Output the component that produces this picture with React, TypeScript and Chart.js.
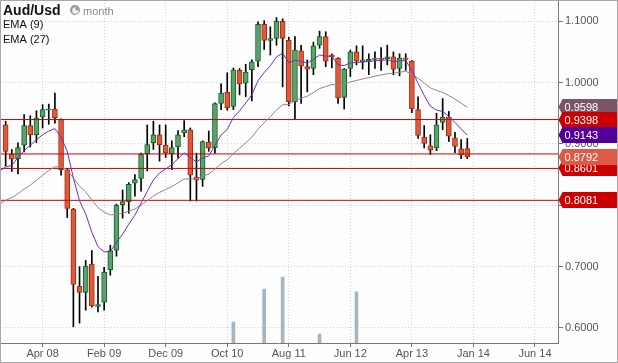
import React, { useEffect, useRef } from 'react';
import { Chart, registerables } from 'chart.js';

Chart.register(...registerables);

// Monthly candles, index 0 = first visible month
const OPEN = [0.931, 0.883, 0.876, 0.898, 0.930, 0.915, 0.944, 0.955, 0.957, 0.940,
  0.858, 0.794, 0.668, 0.658, 0.704, 0.635, 0.642, 0.695, 0.727, 0.801,
  0.806, 0.836, 0.844, 0.884, 0.902, 0.915, 0.898, 0.884, 0.895, 0.918,
  0.923, 0.846, 0.842, 0.903, 0.894, 0.966, 0.984, 0.961, 1.020, 0.999,
  1.021, 1.035, 1.095, 1.069, 1.072, 1.100, 1.069, 0.969, 1.052, 1.026,
  1.023, 1.061, 1.075, 1.045, 1.040, 0.976, 1.023, 1.050, 1.034, 1.035,
  1.038, 1.040, 1.039, 1.042, 1.023, 1.040, 1.035, 0.956, 0.911, 0.897,
  0.8935, 0.935, 0.944, 0.910, 0.892, 0.8925];
const HIGH = [0.937, 0.891, 0.902, 0.948, 0.946, 0.954, 0.964, 0.965, 0.983, 0.941,
  0.860, 0.795, 0.700, 0.710, 0.726, 0.684, 0.699, 0.735, 0.802, 0.825,
  0.837, 0.850, 0.885, 0.931, 0.937, 0.931, 0.931, 0.905, 0.922, 0.938,
  0.926, 0.885, 0.905, 0.921, 0.967, 0.998, 1.016, 1.024, 1.023, 1.030,
  1.037, 1.099, 1.101, 1.091, 1.106, 1.104, 1.074, 1.075, 1.061, 1.037,
  1.066, 1.084, 1.083, 1.047, 1.041, 1.023, 1.053, 1.060, 1.060, 1.047,
  1.050, 1.057, 1.061, 1.050, 1.047, 1.047, 1.036, 0.977, 0.930, 0.915,
  0.950, 0.974, 0.953, 0.919, 0.907, 0.909];
const LOW = [0.864, 0.855, 0.851, 0.887, 0.895, 0.902, 0.926, 0.932, 0.934, 0.849,
  0.780, 0.602, 0.608, 0.629, 0.634, 0.626, 0.629, 0.686, 0.717, 0.779,
  0.787, 0.815, 0.823, 0.856, 0.891, 0.872, 0.878, 0.858, 0.877, 0.912,
  0.807, 0.807, 0.831, 0.888, 0.885, 0.956, 0.955, 0.956, 0.980, 0.977,
  0.970, 1.026, 1.054, 1.045, 1.061, 0.993, 0.962, 0.940, 0.966, 0.985,
  1.013, 1.056, 1.026, 1.024, 0.966, 0.957, 1.010, 1.029, 1.022, 1.013,
  1.023, 1.020, 1.029, 1.013, 1.011, 1.020, 0.951, 0.909, 0.8935, 0.883,
  0.889, 0.923, 0.904, 0.886, 0.876, 0.876];
const CLOSE = [0.888, 0.875, 0.894, 0.930, 0.915, 0.942, 0.956, 0.957, 0.943, 0.858,
  0.795, 0.671, 0.658, 0.701, 0.636, 0.638, 0.691, 0.726, 0.800, 0.806,
  0.834, 0.842, 0.883, 0.899, 0.915, 0.899, 0.885, 0.894, 0.915, 0.923,
  0.849, 0.841, 0.904, 0.893, 0.966, 0.983, 0.959, 1.021, 0.998, 1.017,
  1.034, 1.095, 1.069, 1.072, 1.100, 1.072, 0.969, 1.053, 1.027, 1.022,
  1.060, 1.075, 1.035, 1.042, 0.975, 1.022, 1.050, 1.035, 1.037, 1.038,
  1.040, 1.038, 1.042, 1.022, 1.040, 1.038, 0.957, 0.914, 0.901, 0.890,
  0.931, 0.944, 0.9125, 0.896, 0.882, 0.8792];

// EMA values; first entry sits one month before the first candle
const EMA9 = [0.856,
  0.8624, 0.8649, 0.878, 0.889, 0.898, 0.907, 0.915, 0.921, 0.925, 0.9114,
  0.8881, 0.8447, 0.8074, 0.7861, 0.7561, 0.7325, 0.7242, 0.7246, 0.7397, 0.7530,
  0.7692, 0.7838, 0.8036, 0.8227, 0.8412, 0.8528, 0.8592, 0.8662, 0.8760, 0.8854,
  0.8781, 0.8707, 0.8774, 0.8805, 0.8976, 0.9147, 0.9236, 0.9431, 0.9541, 0.9667,
  0.9802, 1.0032, 1.0164, 1.0275, 1.0420, 1.0480, 1.0322, 1.0364, 1.0345, 1.0320,
  1.0376, 1.0451, 1.0431, 1.0429, 1.0293, 1.0278, 1.0322, 1.0328, 1.0336, 1.0345,
  1.0356, 1.0361, 1.0373, 1.0342, 1.0354, 1.0359, 1.0201, 0.9989, 0.9793, 0.9614,
  0.9553, 0.9530, 0.9449, 0.9351, 0.9245, 0.9143];
const EMA27 = [0.802,
  0.8081, 0.8129, 0.8187, 0.8266, 0.8329, 0.8407, 0.8489, 0.8566, 0.8628, 0.8625,
  0.8577, 0.8444, 0.8311, 0.8218, 0.8085, 0.7963, 0.7888, 0.7843, 0.7854, 0.7869,
  0.7903, 0.7940, 0.8004, 0.8074, 0.8151, 0.8211, 0.8257, 0.8306, 0.8366, 0.8428,
  0.8432, 0.8430, 0.8474, 0.8507, 0.8589, 0.8678, 0.8743, 0.8848, 0.8929, 0.9018,
  0.9112, 0.9243, 0.9346, 0.9444, 0.9555, 0.9638, 0.9642, 0.9705, 0.9745, 0.9779,
  0.9838, 0.9903, 0.9935, 0.9970, 0.9954, 0.9973, 1.0011, 1.0035, 1.0059, 1.0082,
  1.0105, 1.0125, 1.0146, 1.0151, 1.0169, 1.0184, 1.0140, 1.0069, 0.9993, 0.9915,
  0.9872, 0.9841, 0.9790, 0.9731, 0.9666, 0.9598];

const VOL_INDEX = [37, 42, 45, 51, 57];
const VOL_VALUES = [61, 157, 192, 26, 149];

const X_TICKS = [6, 16, 26, 36, 46, 56, 66, 76, 86];
const X_LABELS = ['Apr 08', 'Feb 09', 'Dec 09', 'Oct 10', 'Aug 11', 'Jun 12', 'Apr 13', 'Jan 14', 'Jun 14'];
const Y_TICKS = [0.6, 0.7, 0.8, 0.9, 1.0, 1.1];

const H_LINES = [0.9398, 0.8837, 0.8601, 0.8081];

const TAG_VALUES = [0.9598, 0.9398, 0.9143, 0.8601, 0.8081, 0.8792];
const TAG_COLORS = ['#7d5569', '#cc0000', '#52009a', '#cc0000', '#cc0000', '#dc5a46'];

const X_MIN = -0.921;
const X_MAX = 89.74;
const Y_MIN = 0.5755;
const Y_MAX = 1.1347;

const FONT = '"Liberation Sans", Arial, sans-serif';

export default function App() {
  const ref = useRef<HTMLCanvasElement | null>(null);

  useEffect(() => {
    const canvas = ref.current;
    if (!canvas) return;

    const up = CLOSE.map((c, i) => c >= OPEN[i]);
    const bodies = CLOSE.map((c, i) => ({ x: i, y: [Math.min(c, OPEN[i]), Math.max(c, OPEN[i])] }));
    const wicks = HIGH.map((h, i) => ({ x: i, y: [LOW[i], h] }));
    const vols = VOL_INDEX.map((x, k) => ({ x, y: VOL_VALUES[k] }));

    const bgPlugin = {
      id: 'bg',
      beforeDraw(chart: any) {
        const ctx = chart.ctx;
        ctx.save();
        ctx.fillStyle = '#fdfdfd';
        ctx.fillRect(0, 0, chart.width, chart.height);
        ctx.restore();
      },
      afterDraw(chart: any) {
        const ctx = chart.ctx;
        const area = chart.chartArea;
        const yScale = chart.scales.y;
        ctx.save();
        // price tags
        TAG_VALUES.forEach((v, k) => {
          const y = Math.round(yScale.getPixelForValue(v));
          const x0 = area.right + 0.5;
          const h = 16;
          ctx.beginPath();
          ctx.moveTo(x0, y);
          ctx.lineTo(x0 + 4, y - h / 2);
          ctx.lineTo(chart.width, y - h / 2);
          ctx.lineTo(chart.width, y + h / 2);
          ctx.lineTo(x0 + 4, y + h / 2);
          ctx.closePath();
          ctx.fillStyle = TAG_COLORS[k];
          ctx.fill();
          ctx.fillStyle = '#ffffff';
          ctx.font = '11px ' + FONT;
          ctx.textBaseline = 'middle';
          ctx.textAlign = 'left';
          ctx.fillText(v.toFixed(4), x0 + 6, y + 0.5);
        });
        // outer border
        ctx.strokeStyle = '#a8a8a8';
        ctx.lineWidth = 1;
        ctx.strokeRect(0.5, 0.5, chart.width - 1, chart.height - 1);
        // title block
        ctx.fillStyle = '#111';
        ctx.textBaseline = 'alphabetic';
        ctx.font = 'bold 14px ' + FONT;
        ctx.fillText('Aud/Usd', 3, 15);
        // clock icon
        ctx.beginPath();
        ctx.arc(75, 10, 5, 0, Math.PI * 2);
        ctx.fillStyle = '#9a9a9a';
        ctx.fill();
        ctx.beginPath();
        ctx.arc(75.5, 10.5, 3.2, 0, Math.PI * 2);
        ctx.fillStyle = '#f4f4f4';
        ctx.fill();
        ctx.beginPath();
        ctx.moveTo(75.5, 10.5);
        ctx.arc(75.5, 10.5, 3.2, -Math.PI / 2, 0);
        ctx.closePath();
        ctx.fillStyle = '#9a9a9a';
        ctx.fill();
        ctx.font = '11px ' + FONT;
        ctx.fillStyle = '#8a8a8a';
        ctx.fillText('month', 83, 15);
        ctx.fillStyle = '#111';
        ctx.fillText('EMA (9)', 3, 28);
        ctx.fillText('EMA (27)', 3, 43);
        ctx.restore();
      },
    };

    const chart = new Chart(canvas, {
      type: 'bar',
      data: {
        datasets: [
          {
            type: 'line',
            label: 'EMA (9)',
            data: EMA9.map((v, k) => ({ x: k - 1, y: v })),
            borderColor: '#7030c0',
            borderWidth: 1,
            pointRadius: 0,
            tension: 0,
            order: 0,
            yAxisID: 'y',
          } as any,
          {
            type: 'line',
            label: 'EMA (27)',
            data: EMA27.map((v, k) => ({ x: k - 1, y: v })),
            borderColor: '#a08090',
            borderWidth: 1,
            pointRadius: 0,
            tension: 0,
            order: 0,
            yAxisID: 'y',
          } as any,
          ...H_LINES.map((v) => ({
            type: 'line',
            label: 'level',
            data: [{ x: X_MIN, y: v }, { x: X_MAX, y: v }],
            borderColor: '#cc0000',
            borderWidth: 1,
            pointRadius: 0,
            order: 0,
            yAxisID: 'y',
          } as any)),
          {
            label: 'body',
            data: bodies as any,
            backgroundColor: up.map((u) => (u ? '#5e9e72' : '#dd5a3a')),
            borderColor: up.map((u) => (u ? '#0a6a1a' : '#a82a10')),
            borderWidth: 1,
            borderSkipped: false,
            barThickness: 5,
            grouped: false,
            order: 1,
            yAxisID: 'y',
          } as any,
          {
            label: 'wick',
            data: wicks as any,
            backgroundColor: '#000000',
            borderWidth: 0,
            barThickness: 1,
            grouped: false,
            order: 2,
            yAxisID: 'y',
          } as any,
          {
            label: 'volume',
            data: vols as any,
            backgroundColor: '#a4b6c4',
            borderWidth: 0,
            barThickness: 3,
            grouped: false,
            order: 3,
            yAxisID: 'yv',
          } as any,
        ],
      },
      options: {
        responsive: false,
        devicePixelRatio: 1,
        animation: false,
        events: [],
        layout: { padding: 0 },
        plugins: { legend: { display: false }, tooltip: { enabled: false }, title: { display: false } },
        scales: {
          x: {
            type: 'linear',
            min: X_MIN,
            max: X_MAX,
            offset: false,
            grid: { color: '#d2d2d2', lineWidth: 1, drawTicks: true, tickLength: 4, tickColor: '#777', offset: false },
            border: { display: true, color: '#777', width: 1, dash: [1, 2] },
            ticks: {
              autoSkip: false,
              maxRotation: 0,
              padding: 0,
              color: '#555',
              font: { family: FONT, size: 11 },
              callback: (v: any) => {
                const k = X_TICKS.indexOf(Number(v));
                return k >= 0 ? X_LABELS[k] : '';
              },
            },
            afterBuildTicks: (s: any) => {
              s.ticks = X_TICKS.map((v) => ({ value: v }));
            },
            afterFit: (s: any) => {
              s.height = 20;
              s.paddingLeft = 0;
              s.paddingRight = 0;
            },
          } as any,
          y: {
            type: 'linear',
            position: 'right',
            min: Y_MIN,
            max: Y_MAX,
            grid: { color: '#d2d2d2', lineWidth: 1, drawTicks: true, tickLength: 5, tickColor: '#777' },
            border: { display: true, color: '#777', width: 1, dash: [1, 2] },
            ticks: {
              padding: 2,
              color: '#555',
              font: { family: FONT, size: 11 },
              callback: (v: any) => Number(v).toFixed(4),
            },
            afterBuildTicks: (s: any) => {
              s.ticks = Y_TICKS.map((v) => ({ value: v }));
            },
            afterFit: (s: any) => {
              s.width = 60;
              s.paddingTop = 0;
              s.paddingBottom = 0;
            },
          } as any,
          yv: {
            type: 'linear',
            display: false,
            min: 0,
            max: 1000,
          } as any,
        },
      } as any,
      plugins: [bgPlugin],
    });

    return () => chart.destroy();
  }, []);

  return (
    <div style={{ position: 'absolute', left: 0, top: 0, width: 618, height: 363 }}>
      <canvas ref={ref} width={618} height={363} style={{ display: 'block' }} />
    </div>
  );
}
